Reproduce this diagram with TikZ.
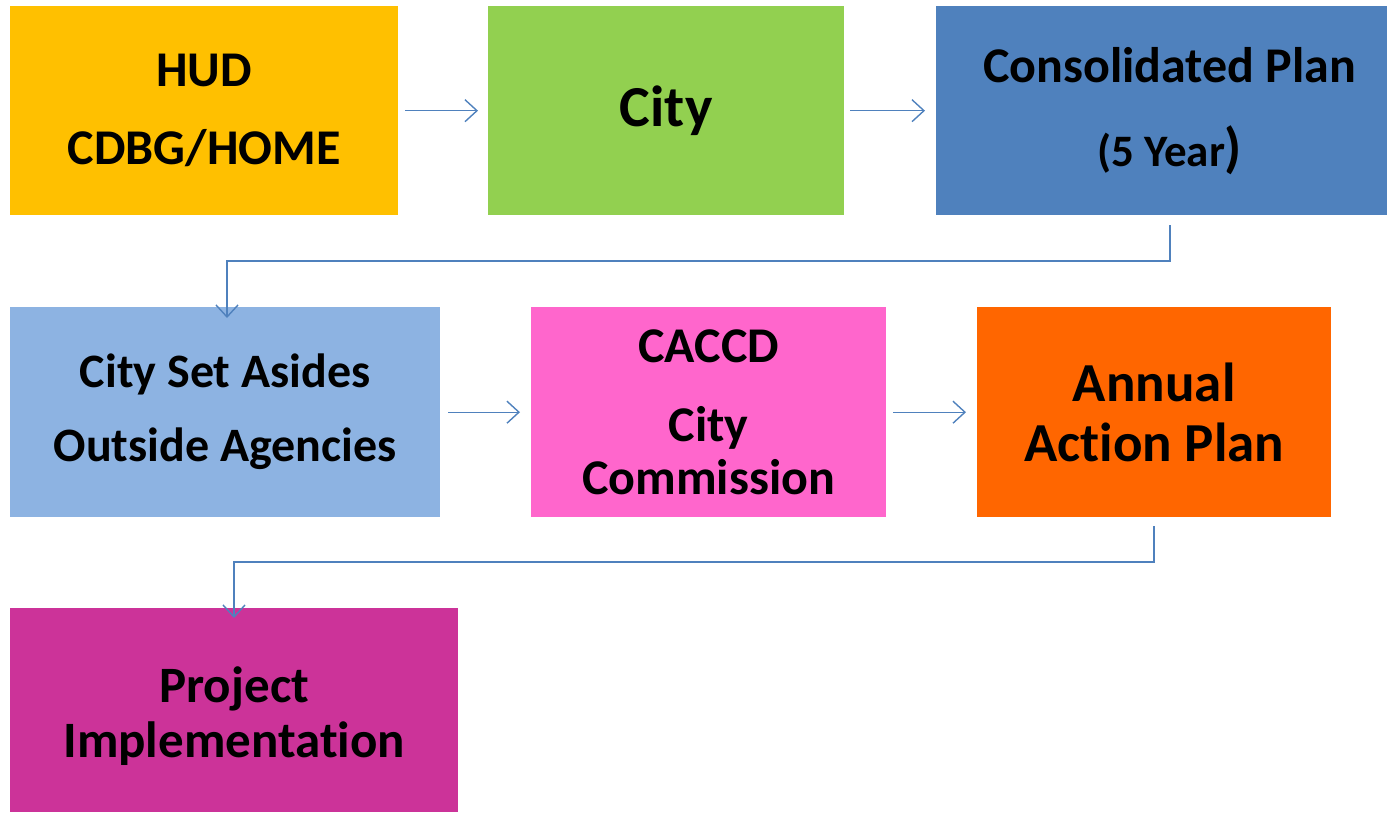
\documentclass[tikz,border=0pt]{standalone}
\usepackage{fontspec}
\setmainfont{Carlito}[Ligatures=NoCommon]
\usetikzlibrary{arrows.meta}
\definecolor{cHUD}{HTML}{FFC000}
\definecolor{cCity}{HTML}{92D050}
\definecolor{cCons}{HTML}{4F81BD}
\definecolor{cSet}{HTML}{8DB3E2}
\definecolor{cCAC}{HTML}{FF66CC}
\definecolor{cAnn}{HTML}{FF6600}
\definecolor{cProj}{HTML}{CC3399}
\definecolor{cArrow}{HTML}{4F81BD}
\tikzset{
  box/.style={rectangle, draw=none, inner sep=0pt, anchor=north west, align=center, text=black},
  conn/.style={draw=cArrow, line width=1.4pt, -{Straight Barb[length=12pt,width=22pt,line width=1.4pt]}},
}
\newcommand{\fs}[2]{\fontsize{#1}{#2}\selectfont\bfseries}
\begin{document}
\begin{tikzpicture}[x=1pt,y=-1pt]
\useasboundingbox (0,0) rectangle (1387,813);
\node[box, fill=cHUD, minimum width=388pt, minimum height=209pt, font=\fs{50}{78}] (hud) at (10,6) {HUD\\CDBG/HOME};
\node[box, fill=cCity, minimum width=356pt, minimum height=209pt, font=\fs{58}{60}] (city) at (488,6) {City};
\node[box, fill=cCons, minimum width=467pt, minimum height=209pt, font=\fs{50}{84}] (cons) at (936,6) {Consolidated Plan\\{\fontsize{45}{84}\selectfont(5 Year{\fontsize{55}{84}\selectfont)}}};
\node[box, fill=cSet, minimum width=430pt, minimum height=210pt, font=\fs{48}{74}] (set) at (10,307) {City Set Asides\\Outside Agencies};
\node[box, fill=cCAC, minimum width=355pt, minimum height=210pt, font=\fs{50}{53}] (cac) at (531,307) {CACCD\\[26pt]City\\Commission};
\node[box, fill=cAnn, minimum width=354pt, minimum height=210pt, font=\fs{55}{60}] (ann) at (977,307) {Annual\\Action Plan};
\node[box, fill=cProj, minimum width=448pt, minimum height=204pt, font=\fs{51}{55}, text depth=0pt] (proj) at (10,608) {\raisebox{-4pt}{Project}\\\raisebox{-4pt}{Implementation}};
\coordinate (c1) at (1170,261);
\coordinate (c2) at (227,261);
\coordinate (c3) at (1154,562);
\coordinate (c4) at (234,562);
\draw[conn] ([xshift=7pt]hud.east) -- ([xshift=-10pt]city.west);
\draw[conn] ([xshift=6pt]city.east) -- ([xshift=-11pt]cons.west);
\draw[conn] (cons.south -| c1) ++(0,10) -- (c1) -- (c2) -- ([yshift=-11pt]set.north -| c2);
\draw[conn] ([xshift=8pt]set.east) -- ([xshift=-11pt]cac.west);
\draw[conn] ([xshift=7pt]cac.east) -- ([xshift=-11pt]ann.west);
\draw[conn] (ann.south -| c3) ++(0,9) -- (c3) -- (c4) -- ([yshift=-10pt]proj.north -| c4);
\end{tikzpicture}
\end{document}
